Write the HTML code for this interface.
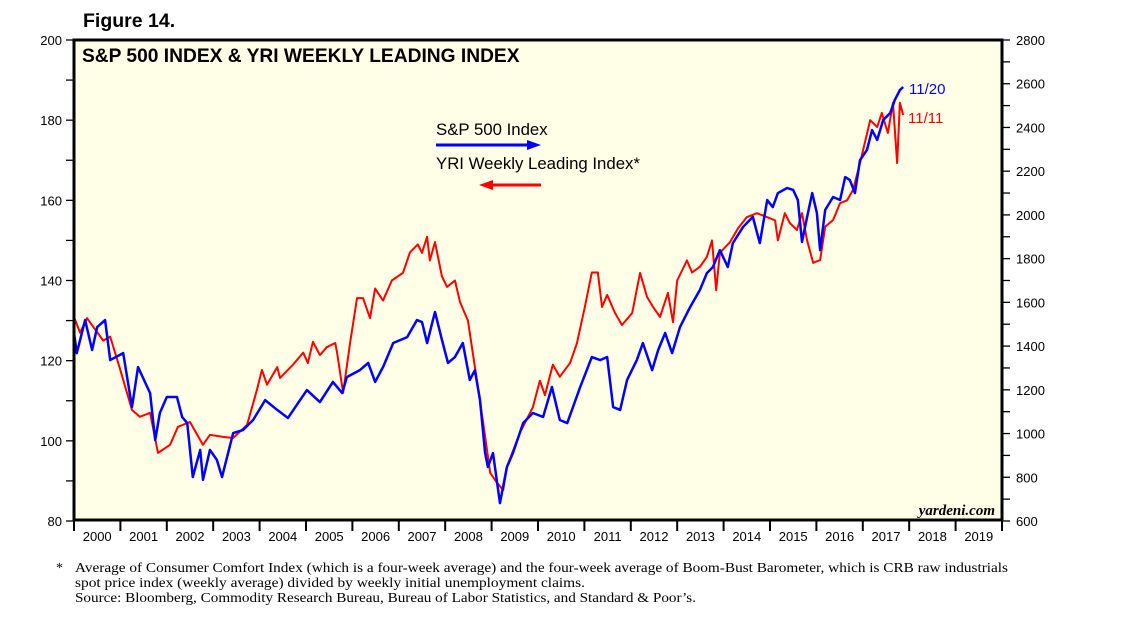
<!DOCTYPE html>
<html><head><meta charset="utf-8"><style>
body{margin:0;background:#fff;width:1138px;height:623px;overflow:hidden;font-family:"Liberation Sans",sans-serif}
</style></head><body>
<svg id="chart" width="1138" height="623" xmlns="http://www.w3.org/2000/svg" font-family="Liberation Sans, sans-serif">
<text x="83" y="27" font-size="19.5" font-weight="bold">Figure 14.</text>
<rect x="74" y="40" width="928" height="480" fill="#fffee6"/>
<g id="axes"></g>
<g id="series"></g>
<rect x="74" y="40" width="928" height="480" fill="none" stroke="#000" stroke-width="3"/>
<text x="82" y="62" font-size="19.2" font-weight="bold">S&amp;P 500 INDEX &amp; YRI WEEKLY LEADING INDEX</text>
<text x="436" y="135" font-size="16.8">S&amp;P 500 Index</text>
<g><line x1="436" y1="145" x2="530" y2="145" stroke="#0000ff" stroke-width="3"/><polygon points="541,145 527,140 527,150" fill="#0000ff"/></g>
<text x="436" y="169" font-size="16.8">YRI Weekly Leading Index*</text>
<g><line x1="490" y1="185" x2="541" y2="185" stroke="#ff0000" stroke-width="3"/><polygon points="479,185 493,180 493,190" fill="#ff0000"/></g>
<text x="909" y="94" font-size="15" fill="#0000ff">11/20</text>
<text x="908" y="123" font-size="15" fill="#ff0000">11/11</text>
<text x="995" y="515" font-size="15" font-style="italic" font-weight="bold" text-anchor="end" font-family="Liberation Serif, serif">yardeni.com</text>
<g font-family="Liberation Serif, serif" font-size="14">
<text x="56" y="572">*</text>
<text x="75" y="572" textLength="933" lengthAdjust="spacingAndGlyphs">Average of Consumer Comfort Index (which is a four-week average) and the four-week average of Boom-Bust Barometer, which is CRB raw industrials</text>
<text x="75" y="587" textLength="510" lengthAdjust="spacingAndGlyphs">spot price index (weekly average) divided by weekly initial unemployment claims.</text>
<text x="75" y="602" textLength="621" lengthAdjust="spacingAndGlyphs">Source: Bloomberg, Commodity Research Bureau, Bureau of Labor Statistics, and Standard &amp; Poor’s.</text>
</g>
</svg>
<script>
const leftTicks=[80,100,120,140,160,180,200];
const rightTicks=[600,800,1000,1200,1400,1600,1800,2000,2200,2400,2600,2800];
const years=[2000,2001,2002,2003,2004,2005,2006,2007,2008,2009,2010,2011,2012,2013,2014,2015,2016,2017,2018,2019];
const yriDates=[2000.00,2000.13,2000.28,2000.63,2000.78,2000.99,2001.25,2001.42,2001.64,2001.81,2002.07,2002.24,2002.50,2002.78,2002.93,2003.21,2003.43,2003.73,2003.94,2004.05,2004.16,2004.38,2004.44,2004.72,2004.94,2005.04,2005.15,2005.30,2005.45,2005.63,2005.67,2005.80,2005.95,2006.10,2006.23,2006.38,2006.49,2006.66,2006.85,2007.09,2007.24,2007.41,2007.50,2007.61,2007.67,2007.78,2007.93,2008.04,2008.21,2008.32,2008.49,2008.64,2008.81,2008.97,2009.12,2009.25,2009.33,2009.61,2009.89,2010.04,2010.15,2010.32,2010.47,2010.69,2010.84,2011.01,2011.16,2011.29,2011.38,2011.49,2011.66,2011.81,2012.03,2012.20,2012.35,2012.48,2012.63,2012.80,2012.91,2013.00,2013.21,2013.32,2013.49,2013.64,2013.75,2013.84,2013.92,2014.14,2014.31,2014.50,2014.72,2014.94,2015.11,2015.17,2015.32,2015.43,2015.58,2015.69,2015.80,2015.93,2016.08,2016.19,2016.36,2016.51,2016.66,2016.79,2016.94,2017.16,2017.31,2017.41,2017.54,2017.65,2017.74,2017.80,2017.87];
const yriValues=[130.9,127,130.6,125,126,118,107.7,106,107,97,99,103.5,104.7,99,101.5,101,100.7,104,112.6,117.7,114,118.4,115.7,119,122,119.4,124.7,121.4,123.4,124.4,122,112,124.4,135.6,135.6,130.6,138,135,140,141.9,147,149,146.9,150.9,145,149.6,141,138.4,140,134.6,130,118.4,105.2,92,89.5,87.7,93.5,102,108.4,115,111.4,119,116,119.4,124.4,133.4,142,142,133.4,136.4,131.9,128.9,131.9,141.9,135.9,133.4,130.9,136.9,129.6,140,145,142,143.4,145.9,150,137.6,146.9,149.6,153,155.8,156.8,155.8,155,150,156.8,154.3,152.6,156.8,150,144.4,145.1,153.4,155.1,159.3,160,162.6,169.3,180,178.3,181.8,176.8,184.3,169.3,184.3,181.3];
const spxDates=[2000.00,2000.06,2000.24,2000.39,2000.50,2000.67,2000.78,2001.06,2001.25,2001.38,2001.64,2001.75,2001.85,2002.00,2002.22,2002.33,2002.44,2002.56,2002.72,2002.78,2002.93,2003.08,2003.19,2003.43,2003.64,2003.86,2004.12,2004.38,2004.61,2004.83,2005.02,2005.30,2005.58,2005.78,2005.88,2006.16,2006.34,2006.49,2006.66,2006.88,2007.18,2007.39,2007.50,2007.61,2007.78,2007.93,2008.06,2008.21,2008.38,2008.53,2008.64,2008.75,2008.86,2008.92,2009.03,2009.18,2009.33,2009.46,2009.68,2009.89,2010.11,2010.30,2010.47,2010.63,2010.91,2011.16,2011.34,2011.49,2011.62,2011.77,2011.92,2012.13,2012.26,2012.46,2012.59,2012.74,2012.89,2013.06,2013.28,2013.49,2013.64,2013.77,2013.92,2014.09,2014.20,2014.42,2014.63,2014.78,2014.94,2015.06,2015.17,2015.37,2015.50,2015.60,2015.69,2015.80,2015.91,2016.01,2016.08,2016.19,2016.36,2016.51,2016.62,2016.72,2016.83,2016.94,2017.09,2017.20,2017.31,2017.44,2017.59,2017.69,2017.80,2017.87];
const spxValues=[1460,1368,1519,1382,1487,1519,1336,1368,1121,1304,1185,970,1094,1167,1167,1076,1048,801,925,788,925,879,801,1002,1016,1062,1153,1108,1071,1140,1199,1144,1236,1185,1258,1290,1323,1236,1304,1414,1441,1519,1510,1414,1556,1428,1323,1350,1414,1245,1290,1153,911,847,911,682,847,911,1048,1094,1076,1213,1062,1048,1213,1350,1336,1350,1121,1108,1245,1336,1414,1290,1382,1460,1368,1487,1579,1657,1734,1762,1839,1762,1871,1945,1991,1871,2068,2036,2100,2123,2114,2068,1876,1991,2100,2009,1839,2023,2082,2068,2173,2160,2100,2251,2297,2388,2343,2434,2466,2526,2571,2585];

const X0=74,X1=1002,YT=40,YB=521;
const xOf=t=>X0+(t-2000)/20*(X1-X0);
const yL=v=>YB-(v-80)/120*(YB-YT);
const yR=v=>YB-(v-600)/2200*(YB-YT);
const NS="http://www.w3.org/2000/svg";
function mk(tag,attrs,parent,text){const e=document.createElementNS(NS,tag);for(const k in attrs)e.setAttribute(k,attrs[k]);if(text!==undefined)e.textContent=text;parent.appendChild(e);return e;}
const axes=document.getElementById('axes'),series=document.getElementById('series');
for(let v=80;v<=200;v+=10){mk('line',{x1:X0-8,x2:X0,y1:yL(v),y2:yL(v),stroke:'#000','stroke-width':1.3},axes);}
leftTicks.forEach(v=>{const t=mk('text',{x:X0-12,y:yL(v)+5,'text-anchor':'end','font-size':13},axes,String(v));

});
for(let v=600;v<=2800;v+=100){mk('line',{x1:X1,x2:X1+8,y1:yR(v),y2:yR(v),stroke:'#000','stroke-width':1.3},axes);}
rightTicks.forEach(v=>{const t=mk('text',{x:X1+14,y:yR(v)+5,'font-size':13},axes,String(v));

});
for(let y=2000;y<=2020;y++){mk('line',{x1:xOf(y),x2:xOf(y),y1:YB,y2:YB+10,stroke:'#000','stroke-width':2},axes);}
years.forEach(y=>{const t=mk('text',{x:xOf(y+0.5),y:YB+20,'text-anchor':'middle','font-size':13},axes,String(y));

});
const rp=mk('polyline',{points:yriDates.map((d,i)=>xOf(d)+','+yL(yriValues[i])).join(' '),fill:'none',stroke:'#ff0000','stroke-width':2,'stroke-linejoin':'round'},series);


const bp=mk('polyline',{points:spxDates.map((d,i)=>xOf(d)+','+yR(spxValues[i])).join(' '),fill:'none',stroke:'#0000ff','stroke-width':2.5,'stroke-linejoin':'round'},series);


</script>
</body></html>
